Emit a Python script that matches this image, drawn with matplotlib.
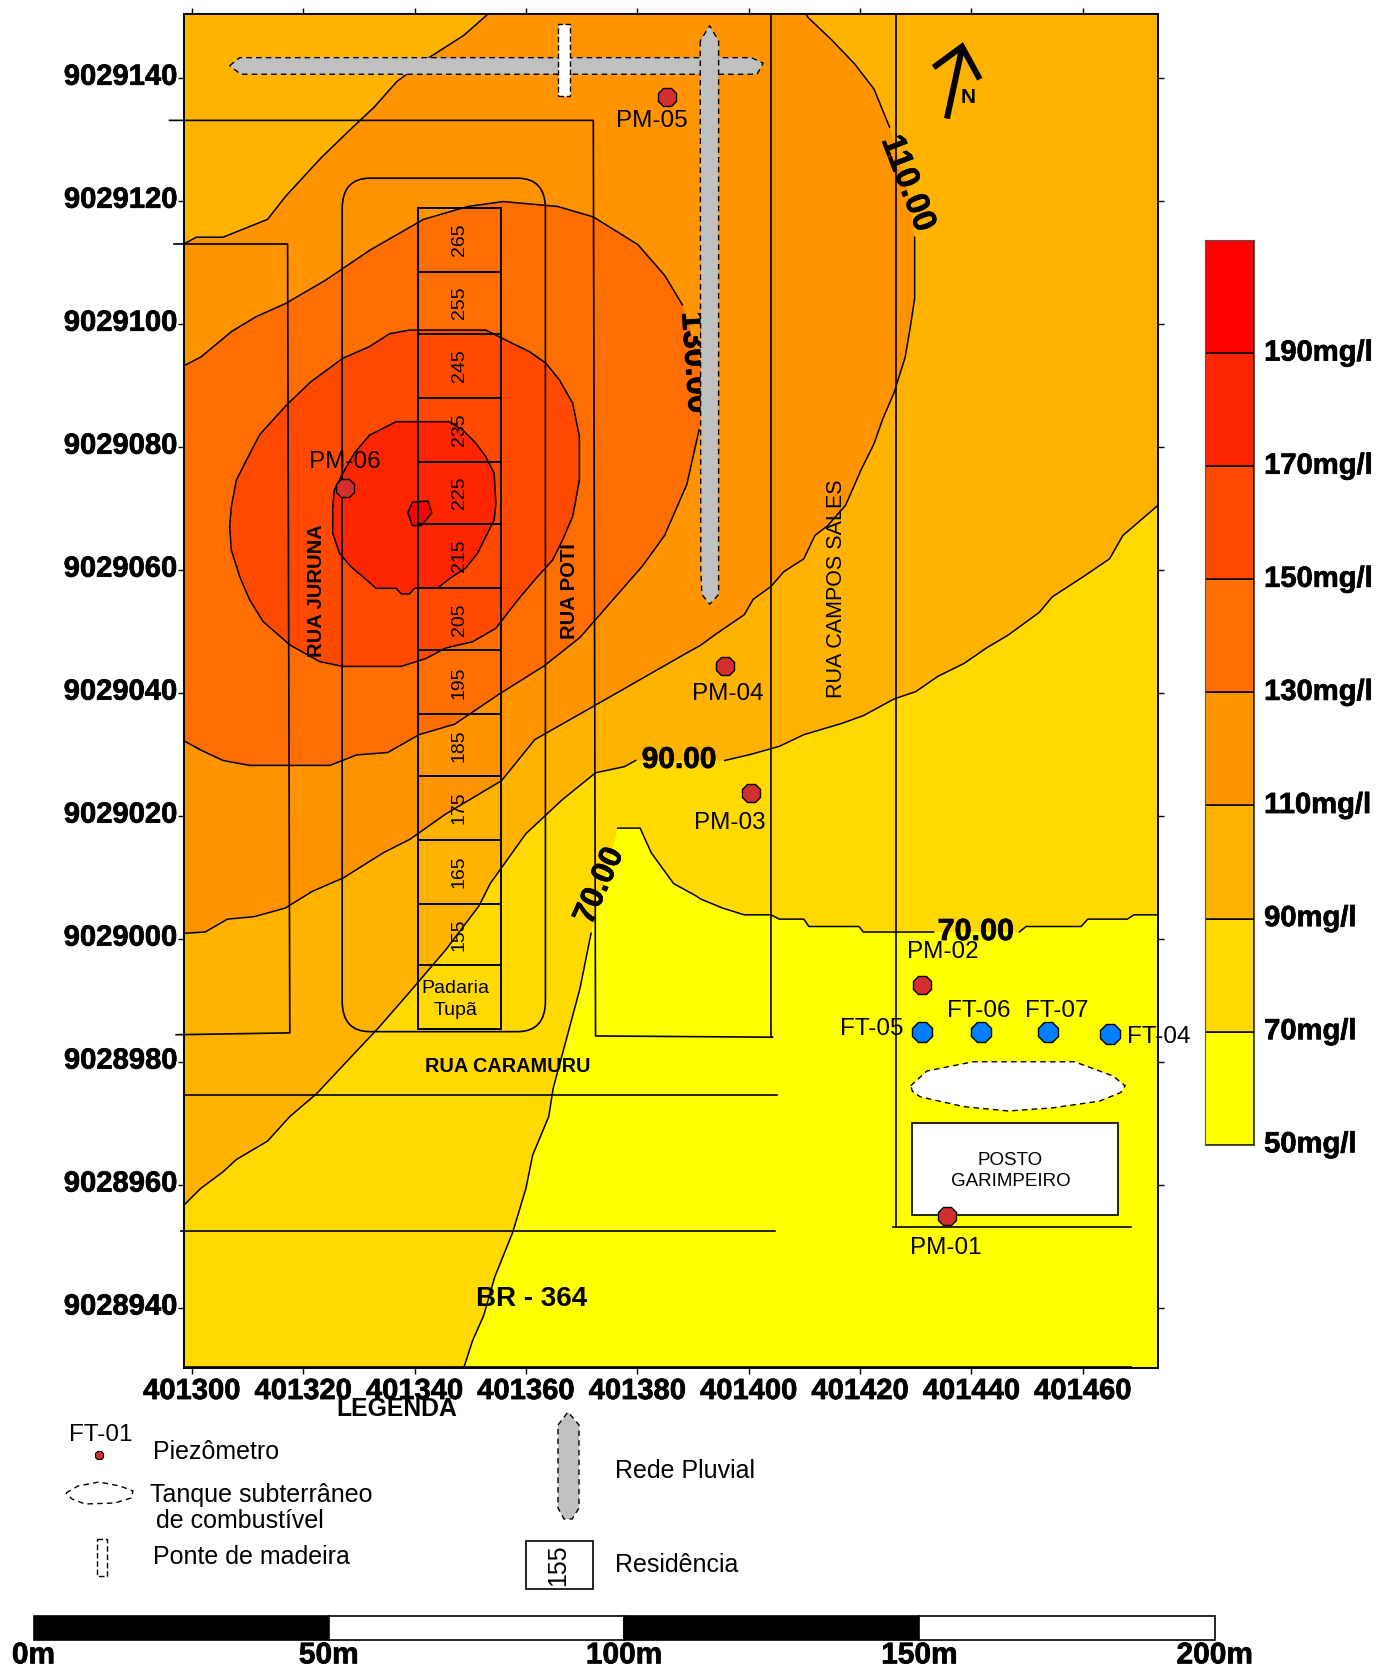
import matplotlib

matplotlib.use("Agg")

import matplotlib.pyplot as plt
import matplotlib.patheffects as pe
import numpy as np
from matplotlib.patches import FancyBboxPatch, Rectangle, Polygon
from matplotlib.transforms import ScaledTranslation

plt.rcParams["font.family"] = ["Liberation Sans", "DejaVu Sans"]

# map coordinates are kept as offsets from these two bases
X_BASE = 401000
Y_BASE = 9020000
XMIN, XMAX = 298.6, 473.5
YMIN, YMAX = 8930.2, 9150.4
GAP = (np.nan, np.nan)

x_ticks = [300, 320, 340, 360, 380, 400, 420, 440, 460]
y_ticks = [8940, 8960, 8980, 9000, 9020, 9040, 9060, 9080, 9100, 9120, 9140]

levels = [50, 70, 90, 110, 130, 150, 170, 190, 210]
band_colors = ["#FFFF00", "#FFD900", "#FFB300", "#FF9300",
               "#FF6E00", "#FF4A00", "#FF2500", "#FF0000"]

line_70 = [(348.8, 8930.1), (350.4, 8934.6), (352.4, 8938.7), (354.4, 8945.0), (357.6, 8952.2),
           (360.0, 8959.4), (361.2, 8964.8), (364.1, 8971.1), (364.9, 8975.7), (367.3, 8983.8),
           (369.7, 8991.9), (371.7, 9000.9), GAP, (376.5, 9018.0), (380.5, 9018.0), (382.5, 9014.0),
           (386.5, 9009.0), (390.5, 9007.0), (391.3, 9006.5), (395.3, 9005.0), (399.2, 9003.9),
           (404.0, 9003.9), (405.5, 9003.2), (409.9, 9003.2), (410.8, 9002.0), (419.8, 9002.0),
           (420.6, 9001.1), (433.2, 9001.1), GAP, (448.6, 9001.1), (449.8, 9002.0), (459.7, 9002.0),
           (460.9, 9003.2), (468.0, 9003.2), (469.2, 9003.9), (473.5, 9003.9)]

line_90 = [(298.6, 8956.7), (301.6, 8959.4), (305.6, 8962.1), (308.0, 8964.1), (313.6, 8967.1),
           (317.6, 8971.1), (322.4, 8974.8), (328.4, 8980.6), (333.6, 8985.6), (338.8, 8991.0),
           (345.6, 8998.2), (351.6, 9005.4), (353.6, 9009.0), (360.0, 9017.1), (366.5, 9022.6),
           (372.5, 9027.0), (377.7, 9028.0), (379.7, 9029.0), GAP, (395.7, 9029.0), (400.4, 9030.0),
           (405.5, 9031.3), (409.9, 9033.2), (416.6, 9035.0), (420.6, 9036.3), (426.1, 9039.0),
           (430.0, 9040.2), (434.0, 9042.7), (438.7, 9044.8), (442.7, 9047.3), (446.6, 9049.4),
           (452.2, 9053.1), (454.5, 9055.6), (460.1, 9058.9), (464.8, 9061.8), (467.2, 9065.6),
           (473.5, 9070.5)]

line_110 = [(298.6, 9000.9), (302.4, 9001.1), (306.4, 9003.2), (311.2, 9003.6), (316.8, 9005.0),
            (321.6, 9007.7), (327.2, 9009.9), (334.4, 9014.0), (339.2, 9016.2), (345.6, 9020.3),
            (355.6, 9025.7), (361.6, 9032.4), (372.1, 9037.8), (377.7, 9040.7), (388.9, 9046.5),
            (391.3, 9047.7), (394.5, 9049.8), (399.2, 9052.7), (400.8, 9055.2), (404.0, 9057.3),
            (406.3, 9059.7), (409.9, 9061.8), (411.9, 9065.6), (414.2, 9067.2), (417.4, 9070.5),
            (420.2, 9076.3), (422.5, 9080.5), (424.1, 9084.6), (426.1, 9088.8), (428.1, 9094.6),
            (428.9, 9098.8), (429.8, 9104.1), (429.8, 9114.1), GAP, (428.5, 9122.0), GAP, (425.3, 9132.0),
            (422.5, 9138.2), (419.0, 9142.3), (415.0, 9146.1), (410.7, 9149.8), (410.3, 9150.4), GAP,
            (353.2, 9150.4), (348.8, 9146.9), (342.4, 9143.2), (336.8, 9139.4), (332.8, 9135.3),
            (328.8, 9131.9), (323.2, 9127.0), (316.8, 9120.7), (313.6, 9117.0), (305.6, 9114.1),
            (300.8, 9114.1), (298.6, 9113.0)]

line_130 = [(298.6, 9093.2), (301.6, 9094.6), (307.2, 9098.8), (311.6, 9101.2), (316.8, 9103.3),
            (324.0, 9107.1), (332.0, 9112.0), (341.6, 9117.0), (349.6, 9119.1), (355.9, 9119.9),
            (365.7, 9119.1), (372.1, 9117.4), (380.1, 9112.9), (384.9, 9107.9), (388.1, 9103.1),
            GAP, (392.5, 9090.0), GAP, (391.1, 9082.8), (388.9, 9073.9), (384.9, 9065.6),
            (380.9, 9060.6), (375.3, 9054.8), (369.7, 9049.0), (363.3, 9044.4), (355.2, 9039.8),
            (347.2, 9034.9), (340.8, 9033.2), (335.2, 9030.3), (329.6, 9029.9), (324.8, 9028.2),
            (310.4, 9028.2), (305.6, 9029.0), (301.6, 9030.7), (298.6, 9032.2)]

line_150 = [(306.8, 9067.0), (307.1, 9070.3), (308.0, 9074.6), (309.5, 9077.3), (312.2, 9082.0),
            (317.0, 9086.8), (321.4, 9090.6), (327.1, 9094.4), (331.9, 9096.3), (335.5, 9098.4),
            (339.1, 9099.0), (352.8, 9099.0), (357.0, 9097.1), (360.6, 9095.5), (363.6, 9093.6),
            (366.0, 9090.9), (368.4, 9087.1), (369.6, 9081.7), (369.6, 9074.6), (368.4, 9068.7),
            (366.6, 9064.9), (364.8, 9061.6), (361.8, 9058.6), (358.8, 9055.4), (354.6, 9050.5),
            (350.4, 9048.3), (345.6, 9047.3), (342.1, 9045.6), (337.6, 9044.3), (327.1, 9044.3),
            (322.9, 9045.1), (317.6, 9047.8), (312.8, 9051.6), (310.4, 9055.1), (308.6, 9058.9),
            (307.1, 9063.2), (306.8, 9067.0)]

line_170 = [(325.3, 9070.3), (325.6, 9073.0), (327.1, 9075.7), (329.2, 9079.0), (331.9, 9081.9),
            (334.3, 9083.0), (336.7, 9084.1), (346.2, 9084.1), (348.6, 9082.8), (351.0, 9080.6),
            (352.8, 9078.4), (354.3, 9075.7), (354.6, 9070.8), (354.3, 9068.1), (352.8, 9065.4),
            (351.3, 9062.7), (349.2, 9060.3), (346.8, 9058.9), (344.2, 9057.1), (340.0, 9057.0),
            (339.1, 9056.1), (337.6, 9056.1), (336.7, 9057.0), (333.1, 9057.0), (330.7, 9058.9),
            (328.6, 9060.5), (326.5, 9062.7), (325.3, 9066.0), (325.3, 9070.3)]

line_190 = [(338.8, 9069.3), (339.6, 9071.0), (342.4, 9071.2), (343.1, 9069.3), (341.2, 9067.2),
            (339.6, 9067.2), (338.8, 9069.3)]

contour_labels = ["110.00", "130.00", "90.00", "70.00", "70.00"]
contour_label_x = [428.5, 390.2, 387.5, 373.3, 440.8]
contour_label_y = [9122.8, 9093.7, 9029.1, 9008.6, 9001.1]
contour_label_rot = [-69, -86, 0, 66, 0]
contour_label_size = [24, 24, 21.5, 23, 22]

# street outlines
road_lines = [
    ([296.0, 372.1, 372.5, 404.3, 404.0, 404.0], [9133.1, 9133.1, 8984.2, 8984.0, 8984.0, 9150.4]),
    ([296.8, 317.2, 317.6, 297.2], [9113.0, 9113.0, 8984.7, 8984.4]),
    ([298.6, 405.1], [8974.6, 8974.6]),
    ([298.0, 404.7], [8952.5, 8952.5]),
    ([426.5, 426.5], [9150.4, 8953.1]),
    ([426.0, 468.6], [8953.1, 8953.1]),
    ([298.6, 468.6], [8930.4, 8930.4]),
]
block_x = [327.0, 363.5]
block_y = [8984.9, 9123.7]

lot_left, lot_right = 340.6, 355.5
lot_edges = [9118.8, 9108.5, 9098.3, 9088.0, 9077.6, 9067.5, 9057.0, 9046.9,
             9036.5, 9026.4, 9016.1, 9005.6, 8995.7, 8985.4]
lot_numbers = ["265", "255", "245", "235", "225", "215", "205",
               "195", "185", "175", "165", "155"]

drain_h = [(306.8, 9142.0), (308.6, 9143.3), (400.5, 9143.3), (402.6, 9142.4), (401.5, 9140.6), (308.8, 9140.6)]
drain_v = [(391.3, 9146.0), (391.4, 9060.0), (391.6, 9056.0), (393.0, 9054.4), (394.6, 9056.0),
           (394.6, 9146.0), (393.0, 9148.5)]
bridge_x = [365.7, 367.9]
bridge_y = [9137.1, 9148.8]

tank = [(429.1, 8976.1), (432.0, 8978.5), (440.3, 8980.0), (458.5, 8980.0), (465.4, 8977.7), (467.6, 8976.1),
        (466.8, 8975.0), (463.0, 8973.6), (454.5, 8972.5), (446.6, 8972.0), (438.7, 8972.7), (430.8, 8974.3),
        (429.4, 8975.2)]
station_x = [429.4, 466.4]
station_y = [8955.1, 8970.1]

pm_x = [435.7, 431.2, 400.4, 395.8, 385.4, 327.5]
pm_y = [8954.9, 8992.5, 9023.7, 9044.4, 9136.9, 9073.3]
ft_x = [431.2, 441.7, 453.8, 464.8]
ft_y = [8984.9, 8984.9, 8984.9, 8984.5]

well_names = ["PM-01", "PM-02", "PM-03", "PM-04", "PM-05", "PM-06", "FT-05", "FT-06", "FT-07", "FT-04"]
well_label_x = [435.4, 434.9, 396.7, 396.3, 382.6, 327.4, 422.1, 441.3, 455.3, 473.7]
well_label_y = [8949.7, 8997.9, 9018.9, 9039.8, 9133.0, 9077.6, 8985.4, 8988.3, 8988.3, 8984.0]

scale_edges = [0, 50, 100, 150, 200]
scale_colors = ["black", "white", "black", "white"]

W, H = 1391, 1669
LINE = "black"
# the source's bold labels are heavier than the font, a thin stroke gets close
HEAVY = [pe.withStroke(linewidth=0.5, foreground="black")]


def xy(points):
    pts = np.array(points, dtype=float)
    return pts[:, 0] + X_BASE, pts[:, 1] + Y_BASE


def fill_level(ax, points, color, corners=()):
    x, y = xy(list(points) + list(corners))
    keep = ~np.isnan(x)
    ax.fill(x[keep], y[keep], color=color, lw=0, zorder=1)
    lx, ly = xy(points)
    ax.plot(lx, ly, color=LINE, lw=1.1, zorder=2)


def heavy_labels(labels, shift=0):
    for lab in labels:
        lab.set_fontweight("bold")
        lab.set_path_effects(HEAVY)
        if shift:
            lab.set_transform(lab.get_transform() + ScaledTranslation(0, shift / 72, fig.dpi_scale_trans))


fig = plt.figure(figsize=(W / 100, H / 100), dpi=100)
ax = fig.add_axes([184 / W, 1 - 1368 / H, 974 / W, 1354 / H])
ax.set_xlim(XMIN + X_BASE, XMAX + X_BASE)
ax.set_ylim(YMIN + Y_BASE, YMAX + Y_BASE)
ax.set_facecolor(band_colors[0])

top_right = (XMAX, YMAX)
top_left = (XMIN, YMAX)
fill_level(ax, line_70, band_colors[1], [top_right, top_left, (XMIN, YMIN)])
fill_level(ax, line_90, band_colors[2], [top_right, top_left])
fill_level(ax, line_110, band_colors[3])
fill_level(ax, line_130, band_colors[4])
fill_level(ax, line_150, band_colors[5])
fill_level(ax, line_170, band_colors[6])
fill_level(ax, line_190, band_colors[7])

for rx, ry in road_lines:
    ax.plot(np.array(rx) + X_BASE, np.array(ry) + Y_BASE, color=LINE, lw=1.2, zorder=3, clip_on=False)

ax.add_patch(FancyBboxPatch((block_x[0] + X_BASE, block_y[0] + Y_BASE), block_x[1] - block_x[0],
                            block_y[1] - block_y[0], boxstyle="round,pad=0,rounding_size=5",
                            fc="none", ec=LINE, lw=1.2, zorder=3))

# lots along the block
for yy in lot_edges:
    ax.plot([lot_left + X_BASE, lot_right + X_BASE], [yy + Y_BASE, yy + Y_BASE], color=LINE, lw=1.4, zorder=3)
for xx in (lot_left, lot_right):
    ax.plot([xx + X_BASE, xx + X_BASE], [lot_edges[0] + Y_BASE, lot_edges[-1] + Y_BASE], color=LINE, lw=1.4, zorder=3)
for i, num in enumerate(lot_numbers):
    mid = (lot_edges[i] + lot_edges[i + 1]) / 2
    ax.text(348.0 + X_BASE, mid + Y_BASE, num, rotation=90, ha="center", va="center", fontsize=14, zorder=5)
ax.text(347.4 + X_BASE, 8991.9 + Y_BASE, "Padaria", ha="center", va="center", fontsize=14, zorder=5)
ax.text(347.4 + X_BASE, 8988.3 + Y_BASE, "Tupã", ha="center", va="center", fontsize=14, zorder=5)

# contour labels sit under the drain, the 130 one is half hidden by it
for txt, lx, ly, rot, size in zip(contour_labels, contour_label_x, contour_label_y,
                                  contour_label_rot, contour_label_size):
    ax.text(lx + X_BASE, ly + Y_BASE, txt, rotation=rot, ha="center", va="center", fontsize=size,
            fontweight="bold", rotation_mode="anchor", zorder=3.5, path_effects=HEAVY)

# storm drain and bridge
for shape in (drain_h, drain_v):
    sx, sy = xy(shape)
    ax.add_patch(Polygon(np.column_stack([sx, sy]), closed=True, fc="#C0C0C0", ec=LINE, lw=1,
                         ls=(0, (4, 3)), zorder=4))
ax.add_patch(Rectangle((bridge_x[0] + X_BASE, bridge_y[0] + Y_BASE), bridge_x[1] - bridge_x[0],
                       bridge_y[1] - bridge_y[0], fc="white", ec=LINE, lw=1, ls=(0, (4, 2)), zorder=5))

# fuel tank and station
sx, sy = xy(tank)
ax.add_patch(Polygon(np.column_stack([sx, sy]), closed=True, fc="white", ec=LINE, lw=1, ls=(0, (4, 3)), zorder=4))
ax.add_patch(Rectangle((station_x[0] + X_BASE, station_y[0] + Y_BASE), station_x[1] - station_x[0],
                       station_y[1] - station_y[0], fc="white", ec=LINE, lw=1.2, zorder=4))
ax.text(447 + X_BASE, 8963.9 + Y_BASE, "POSTO", ha="center", va="center", fontsize=13.5, zorder=5)
ax.text(447 + X_BASE, 8960.5 + Y_BASE, "GARIMPEIRO", ha="center", va="center", fontsize=13.5, zorder=5)

# wells
ax.plot(np.array(pm_x) + X_BASE, np.array(pm_y) + Y_BASE, ls="", marker="8", ms=14.5, mfc="#D32F2F",
        mec=LINE, mew=1, zorder=6)
ax.plot(np.array(ft_x) + X_BASE, np.array(ft_y) + Y_BASE, ls="", marker="8", ms=15, mfc="#0080FF",
        mec=LINE, mew=1, zorder=6)
for name, lx, ly in zip(well_names, well_label_x, well_label_y):
    ax.text(lx + X_BASE, ly + Y_BASE, name, ha="center", va="center", fontsize=17.5, zorder=7)

# street names
ax.text(322.4 + X_BASE, 9056.7 + Y_BASE, "RUA JURUNA", rotation=90, ha="center", va="center",
        fontsize=14.5, fontweight="bold", zorder=5)
ax.text(367.9 + X_BASE, 9056.6 + Y_BASE, "RUA POTI", rotation=90, ha="center", va="center",
        fontsize=14.5, fontweight="bold", zorder=5)
ax.text(415.8 + X_BASE, 9056.9 + Y_BASE, "RUA CAMPOS SALES", rotation=90, ha="center", va="center",
        fontsize=15.5, zorder=5)
ax.text(356.8 + X_BASE, 8979.3 + Y_BASE, "RUA CARAMURU", ha="center", va="center", fontsize=14.3,
        fontweight="bold", zorder=5)
ax.text(361.1 + X_BASE, 8941.4 + Y_BASE, "BR - 364", ha="center", va="center", fontsize=20,
        fontweight="bold", zorder=5)

# north arrow
ax.plot([435.6 + X_BASE, 438.3 + X_BASE], [9133.4 + Y_BASE, 9144.8 + Y_BASE], color=LINE, lw=4.3,
        solid_capstyle="butt", zorder=5)
ax.plot([433.2 + X_BASE, 438.3 + X_BASE, 441.5 + X_BASE], [9141.7 + Y_BASE, 9145.1 + Y_BASE, 9139.8 + Y_BASE],
        color=LINE, lw=4.3, solid_capstyle="butt", solid_joinstyle="miter", zorder=5)
ax.text(439.4 + X_BASE, 9136.9 + Y_BASE, "N", ha="center", va="center", fontsize=15, fontweight="bold", zorder=5)

ax.set_xticks([v + X_BASE for v in x_ticks], [str(v + X_BASE) for v in x_ticks])
ax.set_yticks([v + Y_BASE for v in y_ticks], [str(v + Y_BASE) for v in y_ticks])
ax.tick_params(top=True, right=True, length=4, width=1, pad=1, labelsize=21)
ax.tick_params(axis="x", pad=2.5)
heavy_labels(ax.get_xticklabels())
heavy_labels(ax.get_yticklabels(), shift=3)
for spine in ax.spines.values():
    spine.set_linewidth(1.4)

# colour scale
cax = fig.add_axes([1204.6 / W, 1 - 1144.8 / H, 49.8 / W, 904.8 / H])
cax.bar([0] * len(band_colors), np.diff(levels), bottom=levels[:-1], width=1, color=band_colors,
        edgecolor="black", linewidth=1.1)
cax.set_xlim(-0.5, 0.5)
cax.set_ylim(levels[0], levels[-1])
cax.set_xticks([])
cax.yaxis.tick_right()
cax.set_yticks(levels[:-1], [f"{v}mg/l" for v in levels[:-1]])
cax.tick_params(length=0, pad=7, labelsize=21)
heavy_labels(cax.get_yticklabels(), shift=2.5)
for spine in cax.spines.values():
    spine.set_color("#555555")

# scale bar
sax = fig.add_axes([33.5 / W, 1 - 1640 / H, 1181.3 / W, 24 / H])
sax.bar(scale_edges[:-1], 1, width=np.diff(scale_edges), align="edge",
        color=scale_colors, edgecolor="black", linewidth=1.2, clip_on=False)
sax.set_xlim(scale_edges[0], scale_edges[-1])
sax.set_ylim(0, 1)
sax.set_yticks([])
sax.set_xticks(scale_edges, [f"{v}m" for v in scale_edges])
sax.tick_params(length=0, pad=1, labelsize=21.5)
heavy_labels(sax.get_xticklabels())
for spine in sax.spines.values():
    spine.set_visible(False)

# legend block, placed in figure pixels
lax = fig.add_axes([0, 0, 1, 1])
lax.set_xlim(0, W)
lax.set_ylim(H, 0)
lax.axis("off")
lax.patch.set_visible(False)
lax.text(397, 1409, "LEGENDA", ha="center", va="center", fontsize=17.8, fontweight="bold")
lax.text(101, 1435, "FT-01", ha="center", va="center", fontsize=17.5)
lax.plot([98.7], [1454.6], ls="", marker="8", ms=6, mfc="#D32F2F", mec=LINE, mew=0.8)
lax.text(153, 1452, "Piezômetro", va="center", fontsize=18)
lax.text(149.6, 1495, "Tanque subterrâneo", va="center", fontsize=18)
lax.text(156, 1521, "de combustível", va="center", fontsize=18)
lax.text(153, 1557, "Ponte de madeira", va="center", fontsize=18)
lax.text(615, 1471, "Rede Pluvial", va="center", fontsize=18)
lax.text(615, 1565, "Residência", va="center", fontsize=18)
lax.add_patch(Polygon([(66, 1493), (78, 1486), (99, 1482), (120, 1486), (133, 1491), (131, 1498),
                       (115, 1503), (85, 1504), (72, 1499)], closed=True, fc="none", ec=LINE, lw=1,
                      ls=(0, (4, 3))))
lax.add_patch(Rectangle((97, 1539), 10, 37, fc="none", ec=LINE, lw=1, ls=(0, (4, 2))))
lax.add_patch(Polygon([(558, 1425), (568, 1412), (579, 1425), (579, 1508), (572, 1519), (564, 1519),
                       (558, 1508)], closed=True, fc="#C0C0C0", ec=LINE, lw=1, ls=(0, (4, 3))))
lax.add_patch(Rectangle((526, 1541), 67, 48, fc="none", ec=LINE, lw=1.2))
lax.text(558, 1565, "155", rotation=90, ha="center", va="center", fontsize=18)

fig.savefig("out.png", dpi=100)
